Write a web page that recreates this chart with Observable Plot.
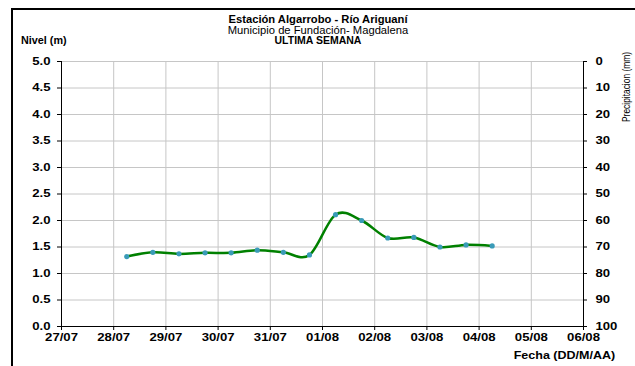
<!DOCTYPE html>
<html>
<head>
<meta charset="utf-8">
<script src="https://cdn.jsdelivr.net/npm/d3@7"></script>
<script src="https://cdn.jsdelivr.net/npm/@observablehq/plot@0.6"></script>
<style>
  html, body { margin: 0; padding: 0; background: #fff; }
  #wrap { position: relative; width: 635px; height: 366px; overflow: hidden; font-family: "Liberation Sans", Arial, sans-serif; }
  #wrap svg { position: absolute; left: 0; top: 0; }
  .frame { position: absolute; left: 11px; top: 8px; width: 700px; height: 400px; border-left: 2px solid #000; border-top: 2px solid #000; }
  .t { position: absolute; white-space: nowrap; color: #000; }
</style>
</head>
<body>
<div id="wrap">
  <div class="frame"></div>
</div>
<script>
// ---- data ----
const times = ["07-28 06:00","07-28 18:00","07-29 06:00","07-29 18:00","07-30 06:00","07-30 18:00",
               "07-31 06:00","07-31 18:00","08-01 06:00","08-01 18:00","08-02 06:00","08-02 18:00",
               "08-03 06:00","08-03 18:00","08-04 06:00"];
const levels = [1.32, 1.40, 1.37, 1.39, 1.39, 1.44, 1.40, 1.35, 2.11, 2.00, 1.67, 1.68, 1.50, 1.54, 1.52];
const dayLabels = ["07-27","07-28","07-29","07-30","07-31","08-01","08-02","08-03","08-04","08-05","08-06"];
const levelTicks = [0, 0.5, 1, 1.5, 2, 2.5, 3, 3.5, 4, 4.5, 5];
const precipTicks = [100, 90, 80, 70, 60, 50, 40, 30, 20, 10, 0];

const year = 2010;
const parse = s => new Date(`${year}-${s.slice(0,5)}T${s.length > 5 ? s.slice(6) : "00:00"}:00Z`);
const data = times.map((t, i) => ({date: parse(t), level: levels[i]}));
const days = dayLabels.map(parse);

const chart = Plot.plot({
  width: 635,
  height: 366,
  marginLeft: 61,
  marginRight: 52,
  marginTop: 61,
  marginBottom: 40,
  style: {fontFamily: "'Liberation Sans', Arial, sans-serif", fontSize: "10.5px", fontWeight: "bold", background: "transparent", overflow: "visible"},
  x: {type: "utc", domain: [days[0], days[days.length - 1]]},
  y: {domain: [0, 5]},
  marks: [
    Plot.ruleY(levelTicks.slice(1), {stroke: "#c6c6c6", strokeWidth: 1}),
    Plot.ruleX(days.slice(1, -1), {stroke: "#c6c6c6", strokeWidth: 1}),
    Plot.ruleX([days[0], days[days.length - 1]], {stroke: "#000", strokeWidth: 1}),
    Plot.ruleY([0], {stroke: "#000", strokeWidth: 1}),
    Plot.axisY({anchor: "left", ticks: levelTicks, tickFormat: d => d.toFixed(1), tickSize: 4, tickPadding: 7, label: null}),
    Plot.axisY({anchor: "right", ticks: levelTicks, tickFormat: (d, i) => String(precipTicks[i]), tickSize: 3, tickPadding: 9, textAnchor: "start", label: null}),
    Plot.axisX({ticks: days, tickFormat: d3.utcFormat("%d/%m"), tickSize: 4, tickPadding: 3, label: null}),
    Plot.line(data, {x: "date", y: "level", stroke: "#008000", strokeWidth: 2.5, curve: "cardinal"}),
    Plot.dot(data, {x: "date", y: "level", r: 2.6, fill: "#3a9bb8", stroke: "none"})
  ]
});
const wrap = document.getElementById("wrap");
wrap.appendChild(chart);

// stretch tick labels horizontally to match the wide lettering of the original
chart.querySelectorAll('g[aria-label$="tick label"] text').forEach(t => {
  const len = t.getComputedTextLength();
  if (len > 0) {
    t.setAttribute("textLength", (len * 1.25).toFixed(1));
    t.setAttribute("lengthAdjust", "spacingAndGlyphs");
  }
});

// right-axis title (rotated)
const ns = "http://www.w3.org/2000/svg";
const yt = document.createElementNS(ns, "text");
yt.setAttribute("transform", "translate(630,52) rotate(-90)");
yt.setAttribute("text-anchor", "end");
yt.setAttribute("style", "font-size:10.5px;font-weight:normal");
yt.setAttribute("fill", "#000");
yt.textContent = "Precipitacion (mm)";
chart.appendChild(yt);
yt.setAttribute("textLength", "70");
yt.setAttribute("lengthAdjust", "spacingAndGlyphs");

function addText(txt, css) {
  const d = document.createElement("div");
  d.className = "t";
  d.textContent = txt;
  Object.assign(d.style, css);
  wrap.appendChild(d);
  return d;
}
addText("Estación Algarrobo - Río Ariguaní", {left: "318px", top: "14px", transform: "translateX(-50%) scaleX(1.12)", fontSize: "10px", fontWeight: "bold"});
addText("Municipio de Fundación- Magdalena", {left: "318px", top: "25px", transform: "translateX(-50%) scaleX(1.12)", fontSize: "10px"});
addText("ULTIMA SEMANA", {left: "318px", top: "35px", transform: "translateX(-50%) scaleX(1.05)", fontSize: "10px", fontWeight: "bold"});
addText("Nivel (m)", {left: "21px", top: "35px", fontSize: "10px", fontWeight: "bold", transformOrigin: "0 0", transform: "scaleX(1.08)"});
addText("Fecha (DD/M/AA)", {right: "20px", top: "350px", fontSize: "10px", fontWeight: "bold", transformOrigin: "100% 0", transform: "scaleX(1.25)"});
</script>
</body>
</html>
